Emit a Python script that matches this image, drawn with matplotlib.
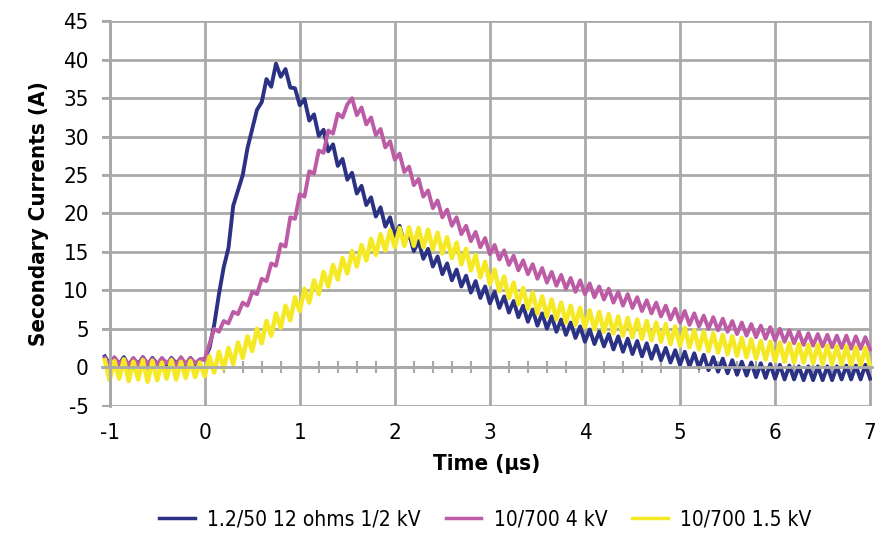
import matplotlib
matplotlib.use('Agg')
import matplotlib.pyplot as plt
import numpy as np
from matplotlib.ticker import MultipleLocator

plt.rcParams['font.family'] = ['DejaVu Sans']
plt.rcParams['font.stretch'] = 'condensed'
plt.rcParams['axes.unicode_minus'] = False

# secondary current samples (A), one every 0.05 us
blue = [1.4, 0.3, 1.2, 0.4, 1.3, 0.2, 1.1, 0.4, 1.3, 0.3, 1.2, 0.4, 1.0, 0.3, 1.2, 0.5, 1.1, 0.3, 1.2, 0.4, 1.0,
        1.0, 2.5, 5.5, 9.5, 13.0, 15.5, 21.0, 23.0, 25.0, 28.5, 31.0, 33.5, 34.5, 37.5, 36.5, 39.5, 37.8, 38.8, 36.4, 36.3,
        34.1, 34.9, 32.1, 32.9, 30.1, 30.9, 28.1, 29.0, 26.2, 27.1, 24.4, 25.3, 22.6, 23.6, 21.1, 22.1, 19.6, 20.8, 18.3, 19.5,
        17.1, 18.4, 16.1, 17.4, 15.1, 16.4, 14.1, 15.4, 13.1, 14.4, 12.1, 13.5, 11.3, 12.7, 10.5, 11.9, 9.7, 11.2, 9.0, 10.5,
        8.3, 9.8, 7.7, 9.2, 7.1, 8.6, 6.5, 8.0, 5.9, 7.5, 5.4, 7.0, 5.0, 6.6, 4.6, 6.2, 4.2, 5.8, 3.8, 5.3,
        3.3, 4.9, 3.0, 4.6, 2.7, 4.3, 2.3, 4.0, 2.0, 3.7, 1.7, 3.4, 1.4, 3.1, 1.1, 2.8, 0.9, 2.5, 0.6, 2.2,
        0.3, 2.0, 0.1, 1.8, -0.1, 1.6, -0.4, 1.3, -0.6, 1.1, -0.8, 0.9, -1.0, 0.7, -1.1, 0.6, -1.3, 0.5, -1.4, 0.4,
        -1.5, 0.3, -1.6, 0.2, -1.6, 0.1, -1.7, 0.1, -1.7, 0.1, -1.7, 0.1, -1.7, 0.1, -1.6, 0.2, -1.6, 0.2, -1.6, 0.3,
        -1.5]

pink = [1.2, 0.2, 1.3, 0.4, 1.1, 0.3, 1.2, 0.2, 1.3, 0.4, 1.1, 0.3, 1.2, 0.5, 1.1, 0.3, 1.3, 0.4, 1.2, 0.5, 1.0,
        1.0, 3.0, 5.0, 4.6, 6.0, 5.7, 7.2, 6.9, 8.4, 8.0, 9.8, 9.5, 11.5, 11.2, 13.5, 13.2, 16.0, 15.7, 19.5, 19.3,
        22.5, 22.2, 25.5, 25.2, 28.2, 27.9, 30.8, 30.4, 33.0, 32.5, 34.2, 35.0, 32.8, 33.8, 31.6, 32.5, 30.2, 31.0, 28.6, 29.4,
        27.0, 27.8, 25.4, 26.1, 23.7, 24.5, 22.2, 23.0, 20.7, 21.7, 19.5, 20.5, 18.4, 19.5, 17.3, 18.4, 16.4, 17.6, 15.6, 16.8,
        14.7, 15.9, 14.0, 15.2, 13.3, 14.5, 12.6, 13.9, 12.1, 13.4, 11.5, 12.9, 11.0, 12.4, 10.6, 12.0, 10.2, 11.6, 9.8, 11.3,
        9.5, 10.9, 9.1, 10.5, 8.8, 10.2, 8.4, 9.8, 8.0, 9.5, 7.7, 9.1, 7.3, 8.7, 7.0, 8.4, 6.6, 8.0, 6.2, 7.6,
        5.8, 7.3, 5.5, 7.0, 5.3, 6.7, 5.0, 6.5, 4.8, 6.3, 4.6, 6.0, 4.3, 5.8, 4.1, 5.6, 3.9, 5.4, 3.7, 5.2,
        3.5, 5.0, 3.3, 4.8, 3.1, 4.6, 2.9, 4.4, 2.8, 4.3, 2.7, 4.2, 2.6, 4.1, 2.5, 4.1, 2.4, 4.0, 2.4, 3.9,
        2.3]

yellow = [0.9, -1.7, 0.8, -1.5, 1.0, -1.8, 0.7, -1.6, 0.9, -1.9, 0.8, -1.7, 0.6, -1.5, 0.9, -1.6, 0.7, -1.4, 0.8, -1.3, 0.6,
          -1.2, 1.4, -0.7, 2.0, -0.2, 2.5, 0.4, 3.2, 1.2, 4.0, 2.1, 5.0, 3.1, 6.0, 4.1, 7.0, 5.1, 8.0, 6.1, 9.1,
          7.3, 10.2, 8.4, 11.3, 9.5, 12.4, 10.5, 13.3, 11.4, 14.2, 12.2, 15.1, 13.1, 15.9, 13.9, 16.7, 14.6, 17.3, 15.2, 17.8,
          15.6, 18.1, 15.8, 18.2, 15.8, 18.1, 15.6, 17.9, 15.3, 17.5, 14.8, 16.9, 14.2, 16.2, 13.4, 15.4, 12.6, 14.6, 11.7, 13.7,
          10.8, 12.7, 9.9, 11.8, 9.0, 11.0, 8.2, 10.3, 7.6, 9.7, 7.0, 9.2, 6.6, 8.8, 6.2, 8.4, 5.8, 8.0, 5.5, 7.7,
          5.2, 7.4, 4.9, 7.2, 4.6, 6.9, 4.4, 6.6, 4.1, 6.4, 3.9, 6.2, 3.7, 6.0, 3.5, 5.8, 3.3, 5.6, 3.0, 5.3,
          2.8, 5.1, 2.6, 4.8, 2.3, 4.6, 2.1, 4.4, 1.9, 4.2, 1.7, 4.0, 1.5, 3.8, 1.3, 3.6, 1.1, 3.4, 1.0, 3.3,
          0.8, 3.2, 0.7, 3.1, 0.6, 3.0, 0.6, 2.9, 0.5, 2.9, 0.4, 2.8, 0.4, 2.7, 0.3, 2.7, 0.2, 2.6, 0.2, 2.5,
          0.1]

labels = ['1.2/50 12 ohms 1/2 kV', '10/700 4 kV', '10/700 1.5 kV']
colors = ['#2B3183', '#BD5CA6', '#F5E925']
widths = [2.8, 2.8, 3.2]

# scope time base (us), evenly sampled
t = np.linspace(-1.05, 7.0, len(blue))

gray = '#A9A9A9'

fig = plt.figure(figsize=(8.78, 5.33), dpi=100)
ax = fig.add_axes([0.1162, 0.2383, 0.8770, 0.7223])

for y, c, w, lab in zip([blue, pink, yellow], colors, widths, labels):
    ax.plot(t, y, color=c, lw=w, label=lab, solid_joinstyle='round')

ax.set_xlim(-1.08, 7.02)
ax.set_ylim(-5.06, 45.06)
ax.set_xticks(range(-1, 8))
ax.set_yticks(range(-5, 46, 5))
ax.xaxis.set_minor_locator(MultipleLocator(0.2))
ax.grid(True, which='major', color=gray, lw=2)
ax.set_axisbelow(True)

for s in ['top', 'right']:
    ax.spines[s].set_visible(False)
ax.spines['left'].set_position(('data', -1))
ax.spines['bottom'].set_position(('data', 0))
for s in ['left', 'bottom']:
    ax.spines[s].set_color(gray)
    ax.spines[s].set_linewidth(2)

ax.tick_params(axis='x', which='major', length=0, labelbottom=False)
ax.tick_params(axis='x', which='minor', direction='inout', length=9, width=1.5, color=gray)
ax.tick_params(axis='y', which='major', direction='out', length=6, width=1.5, color=gray,
               labelsize=16, pad=9)

sec = ax.secondary_xaxis('bottom')
sec.set_xticks(range(-1, 8))
sec.spines['bottom'].set_visible(False)
sec.tick_params(length=0, labelsize=16, pad=12)
sec.set_xlabel('Time (\u00b5s)', fontsize=16, fontweight='bold', labelpad=8)

ax.set_ylabel('Secondary Currents (A)', fontsize=16, fontweight='bold', labelpad=10)

leg = fig.legend(loc='center', bbox_to_anchor=(0.553, 0.026), ncol=3, frameon=False,
                 fontsize=15, handlelength=1.7, columnspacing=1.2, handletextpad=0.6)
for h in leg.legend_handles:
    h.set_linewidth(2.5)

fig.savefig('out.png', dpi=100)
